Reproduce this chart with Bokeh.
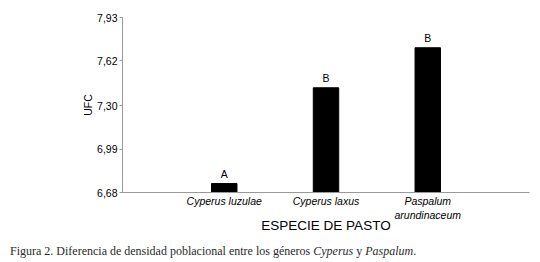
from bokeh.plotting import figure
from bokeh.layouts import column
from bokeh.models import ColumnDataSource, FixedTicker, Range1d, Div
from bokeh.core.properties import value
from bokeh.embed import file_html
from bokeh.resources import INLINE

categories = ["Cyperus luzulae", "Cyperus laxus", "Paspalum\narundinaceum"]
ufc = [6.744, 7.428, 7.714]
letters = ["A", "B", "B"]
y_ticks = [6.68, 6.99, 7.30, 7.62, 7.93]
y_tick_labels = ["6,68", "6,99", "7,30", "7,62", "7,93"]
x_title = "ESPECIE DE PASTO"
y_title = "UFC"
caption_html = ("Figura 2. Diferencia de densidad poblacional entre los géneros "
                "<i>Cyperus</i> y <i>Paspalum</i>.")

xs = [i + 1 for i in range(len(categories))]
src = ColumnDataSource(dict(x=xs, top=ufc, lab=letters))

p = figure(width=540, height=238, output_backend="svg", toolbar_location=None,
           x_range=Range1d(0, 4), y_range=Range1d(6.68, 7.93),
           min_border_left=122, min_border_right=11, min_border_top=17, min_border_bottom=46,
           margin=(0, 0, 0, 0))
p.outline_line_color = None
p.grid.visible = False
p.background_fill_color = "white"
p.border_fill_color = "white"

p.vbar(x="x", top="top", bottom=6.68, width=0.25, source=src, color="black")
p.text(x="x", y="top", text="lab", source=src, y_offset=-4, text_align="center",
       text_baseline="bottom", text_font=value("Liberation Sans"), text_font_size="10.5px",
       text_color="black")

ax = p.yaxis[0]
ax.ticker = FixedTicker(ticks=y_ticks)
ax.major_label_overrides = {t: l for t, l in zip(y_ticks, y_tick_labels)}
ax.axis_line_color = "#999999"
ax.major_tick_line_color = "#999999"
ax.major_tick_out = 3
ax.major_tick_in = 0
ax.minor_tick_out = 0
ax.minor_tick_in = 0
ax.major_label_standoff = 2
ax.major_label_text_font = "Liberation Sans"
ax.major_label_text_font_size = "10.5px"
ax.major_label_text_color = "black"
ax.axis_label = y_title
ax.axis_label_text_font = "Liberation Sans"
ax.axis_label_text_font_style = "normal"
ax.axis_label_text_font_size = "10.5px"
ax.axis_label_text_color = "black"
ax.axis_label_standoff = 0

bx = p.xaxis[0]
bx.ticker = FixedTicker(ticks=xs)
bx.major_label_overrides = {x: c for x, c in zip(xs, categories)}
bx.axis_line_color = "#999999"
bx.major_tick_out = 0
bx.major_tick_in = 0
bx.minor_tick_out = 0
bx.minor_tick_in = 0
bx.major_label_standoff = 2
bx.major_label_text_font = "Liberation Sans"
bx.major_label_text_font_style = "italic"
bx.major_label_text_font_size = "10.5px"
bx.major_label_text_color = "black"
bx.axis_label = x_title
bx.axis_label_text_font = "Liberation Sans"
bx.axis_label_text_font_style = "normal"
bx.axis_label_text_font_size = "13.5px"
bx.axis_label_text_color = "black"
bx.axis_label_standoff = -6

cap = Div(text=caption_html, width=540, height=24, margin=(0, 0, 0, 0),
          styles={"font-family": "Liberation Serif", "font-size": "12px", "color": "#2a2a2a",
                  "padding-left": "10px", "padding-top": "7px", "line-height": "13px",
                  "box-sizing": "border-box"})

layout = column(p, cap, spacing=0, margin=(0, 0, 0, 0))
open("out.html", "w").write(file_html(layout, INLINE))
